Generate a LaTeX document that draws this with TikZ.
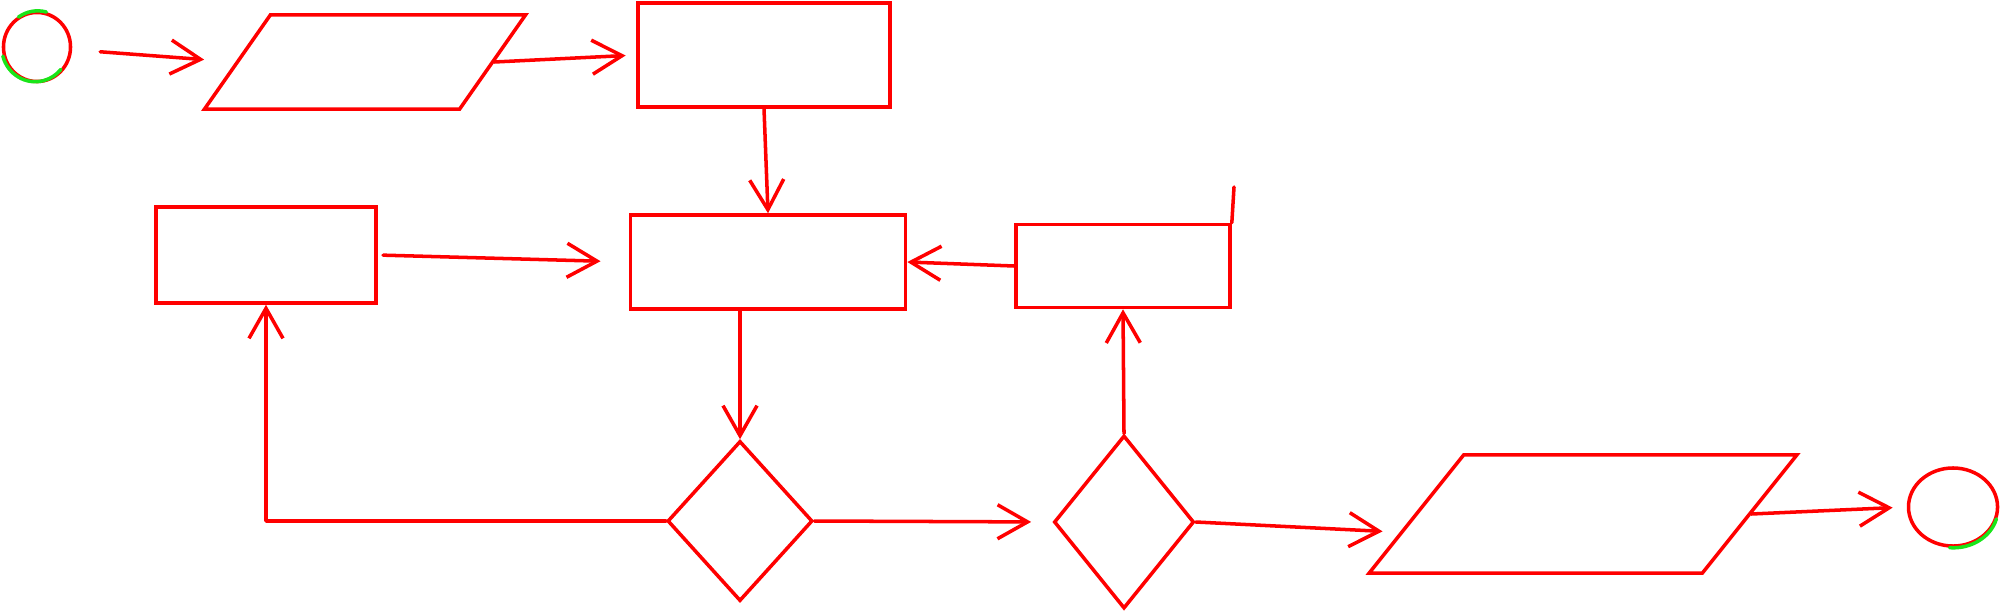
\documentclass[tikz,border=0pt]{standalone}
\usepackage{tikz}
\usetikzlibrary{arrows.meta}
\usetikzlibrary{shapes.geometric}
\usetikzlibrary{calc}
\usepackage{color}
\definecolor{pen}{rgb}{1,0,0}
\definecolor{penb}{rgb}{0.1,0.9,0.1}

\begin{document}
\begin{tikzpicture}[ x=0.01cm, y=-0.01cm,
      every node/.style={draw=pen, line width=1pt, inner sep=0pt},
      flow/.style={ draw=pen, line width=1pt, line cap=round, line join=round,
                    -{Straight Barb[length=3mm,width=3.4mm]}},
      stroke/.style={ draw=pen, line width=1pt, line cap=round},
      greenstroke/.style={ draw=penb, line width=1pt, line cap=round},
      terminal/.style={ellipse},
      process/.style={rectangle},
      io/.style={rectangle, xslant=#1},
      decision/.style={diamond}
      ]
      \useasboundingbox (0,0) rectangle (2004,612);

      % top row
      \node[terminal, minimum width=0.67cm, minimum height=0.69cm] (Start) at (37,47) {};
      \draw[greenstroke] (Start.75) arc[start angle=75, end angle=125, x radius=0.335cm, y radius=0.345cm];
      \draw[greenstroke] (Start.195) arc[start angle=195, end angle=320, x radius=0.335cm, y radius=0.345cm];
      \node[io=0.7, minimum width=2.55cm, minimum height=0.94cm] (InputA) at (365,62) {};
      \node[process, minimum width=2.52cm, minimum height=1.04cm] (StepA) at (764,55) {};

      % middle row
      \node[process, minimum width=2.20cm, minimum height=0.96cm] (StepC) at (266,255) {};
      \node[process, minimum width=2.75cm, minimum height=0.94cm] (StepB) at (768,262) {};
      \node[process, minimum width=2.14cm, minimum height=0.83cm] (StepD) at (1123,266) {};
      \coordinate (StepDTop) at (1234,187);
      \draw[stroke] (StepD.north east) -- (StepDTop);

      % bottom row
      \node[decision, minimum width=1.45cm, minimum height=1.60cm] (TestA) at (740,521) {};
      \node[decision, minimum width=1.40cm, minimum height=1.73cm] (TestB) at (1124,522) {};
      \node[io=0.8, minimum width=3.33cm, minimum height=1.18cm] (OutputA) at (1583,514) {};
      \node[terminal, minimum width=0.89cm, minimum height=0.78cm] (Stop) at (1953,507) {};
      \draw[greenstroke] (Stop.265) arc[start angle=265, end angle=345, x radius=0.445cm, y radius=0.39cm];

      % connectors
      \draw[flow, shorten <=8pt, shorten >=9pt] (Start) -- (InputA.west);
      \draw[flow, shorten >=3pt] (InputA.east) -- (StepA.west);
      \draw[flow] (StepA.south) -- (StepB.north);
      \draw[flow, shorten <=1.5pt, shorten >=8pt] (StepC.east) -- (StepB.west);
      \draw[flow] (StepD.west) -- (StepB.east);
      \draw[flow] (StepB.south -| TestA.north) -- (TestA.north);
      \draw[flow] (TestA.west) -| (StepC.south);
      \draw[flow, shorten >=6pt] (TestA.east) -- (TestB.west);
      \draw[flow] (TestB.north) -- (StepD.south);
      \draw[flow, shorten >=5pt] (TestB.east) -- ($(OutputA.west)!0.3!(OutputA.south west)$);
      \draw[flow, shorten >=4pt] (OutputA.east) -- (Stop.west);
\end{tikzpicture}
\end{document}
